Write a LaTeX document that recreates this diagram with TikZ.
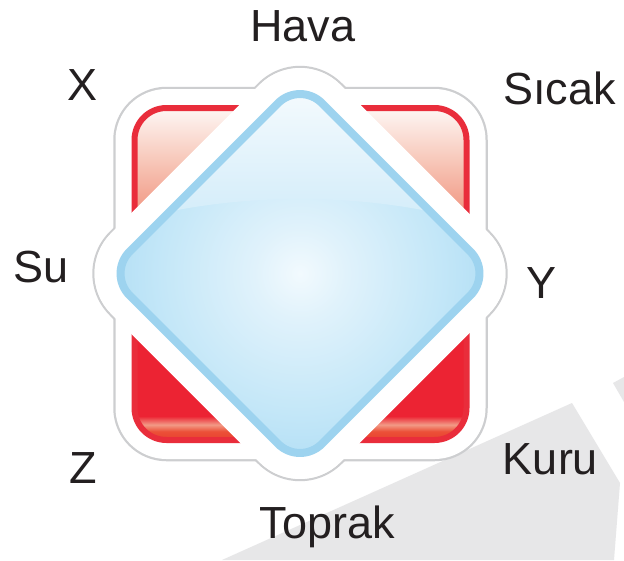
\documentclass[tikz,border=0pt]{standalone}
\usepackage{fontspec}
\setmainfont{Liberation Sans}
\usetikzlibrary{calc}

\definecolor{txt}{HTML}{231F20}
\definecolor{bandgray}{HTML}{E7E7E8}
\definecolor{rimgray}{HTML}{CDCED0}
\definecolor{redline}{HTML}{E92D3B}
\definecolor{blueline}{HTML}{9DD3EF}
% glossy red fill, top to bottom
\definecolor{rgA}{HTML}{E8412F}
\definecolor{rgB}{HTML}{EC5038}
\definecolor{rgC}{HTML}{F29A86}
\definecolor{rgD}{HTML}{EC2333}
\definecolor{rgE}{HTML}{F08C76}
\definecolor{rgF}{HTML}{F7C8BA}
\definecolor{rgG}{HTML}{FDF0EC}
\definecolor{rgH}{HTML}{FEF6F3}
% blue glass fill, centre to rim
\definecolor{bcA}{HTML}{F2FAFE}
\definecolor{bcB}{HTML}{E0F2FB}
\definecolor{bcC}{HTML}{C4E7F8}
\definecolor{bcD}{HTML}{B3DFF5}
\definecolor{glTop}{HTML}{F8FCFE}
\definecolor{glBot}{HTML}{CBE9F8}

\pgfdeclareverticalshading{redgloss}{100bp}{%
  color(0bp)=(rgA); color(25bp)=(rgA); color(26.3bp)=(rgB);
  color(27.3bp)=(rgC); color(28.6bp)=(rgD); color(41.5bp)=(rgD);
  color(57.4bp)=(rgE); color(67.2bp)=(rgF); color(73.9bp)=(rgG);
  color(75bp)=(rgH); color(100bp)=(rgH)}
\pgfdeclareradialshading{blueglass}{\pgfpoint{0bp}{0bp}}{%
  color(0bp)=(bcA); color(6bp)=(bcB); color(18bp)=(bcC);
  color(25bp)=(bcD); color(50bp)=(bcD)}

\tikzset{
  lbl/.style={font=\fontsize{45}{54}\selectfont, text=txt,
    inner sep=0pt, outer sep=0pt, anchor=base},
  sqpath/.style={rounded corners=32pt},
  dmpath/.style={rounded corners=31pt},
}

\begin{document}
\begin{tikzpicture}[x=1pt, y=-1pt, line join=round]
  \fill[white] (0,0) rectangle (624,560);
  \useasboundingbox (0,0) rectangle (624,560);

  % square and diamond outlines
  \coordinate (sqA) at (134.5,108);
  \coordinate (sqB) at (466.5,108);
  \coordinate (sqC) at (466.5,440);
  \coordinate (sqD) at (134.5,440);
  \coordinate (dmT) at (300,81.2);
  \coordinate (dmR) at (492.3,273.5);
  \coordinate (dmB) at (300,465.8);
  \coordinate (dmL) at (107.7,273.5);

  % light grey band behind
  \fill[bandgray] (222,560) -- (572,403) -- (620,483) -- (614,560) -- cycle;
  \fill[bandgray] (613,383) -- (624,377) -- (624,402) -- cycle;

  % grey rim with a slight drop shadow
  \begin{scope}[shift={(1.3,2)}]
    \filldraw[rimgray, line width=42.5pt, sqpath]
      (sqA) -- (sqB) -- (sqC) -- (sqD) -- cycle;
    \filldraw[rimgray, line width=56.5pt, dmpath]
      (dmT) -- (dmR) -- (dmB) -- (dmL) -- cycle;
  \end{scope}

  % white halo
  \filldraw[white, line width=38pt, sqpath]
    (sqA) -- (sqB) -- (sqC) -- (sqD) -- cycle;
  \filldraw[white, line width=52pt, dmpath]
    (dmT) -- (dmR) -- (dmB) -- (dmL) -- cycle;

  % red square
  \shade[shading=redgloss, sqpath]
    (sqA) -- (sqB) -- (sqC) -- (sqD) -- cycle;
  \draw[redline, line width=6pt, sqpath]
    (sqA) -- (sqB) -- (sqC) -- (sqD) -- cycle;

  % white gap between diamond and square
  \draw[white, line width=52pt, dmpath]
    (dmT) -- (dmR) -- (dmB) -- (dmL) -- cycle;

  % blue diamond
  \begin{scope}
    \clip[dmpath] (dmT) -- (dmR) -- (dmB) -- (dmL) -- cycle;
    \shade[shading=blueglass] (107.7,81.2) rectangle (492.3,465.8);
    \shade[top color=glTop, bottom color=glBot]
      (60,250) .. controls (180,182) and (420,182) .. (540,250)
      -- (540,75) -- (60,75) -- cycle;
  \end{scope}
  \draw[blueline, line width=8pt, dmpath]
    (dmT) -- (dmR) -- (dmB) -- (dmL) -- cycle;

  % labels
  \node[lbl] (hava)   at (303,41.7)  {Hava};
  \node[lbl] (x)      at (83,100)    {X};
  \node[lbl] (sicak)  at (559.7,104) {Sıcak};
  \node[lbl] (su)     at (41,282.5)  {Su};
  \node[lbl] (y)      at (541.5,298) {Y};
  \node[lbl] (z)      at (83.5,483)  {Z};
  \node[lbl] (kuru)   at (550.5,474) {Kuru};
  \node[lbl] (toprak) at (327.5,538.3) {Toprak};
\end{tikzpicture}
\end{document}
